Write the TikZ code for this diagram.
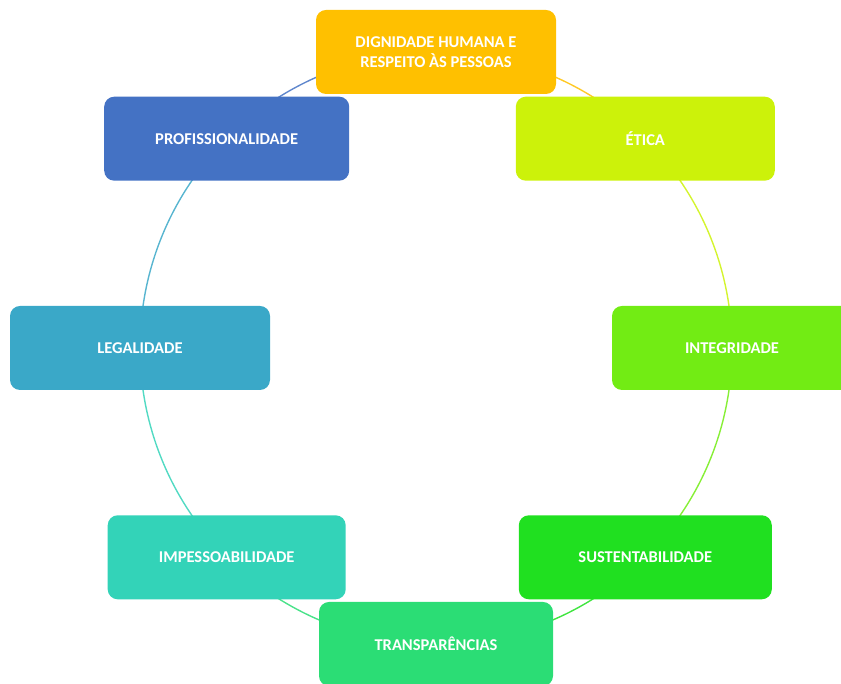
\documentclass[tikz,border=0pt]{standalone}
\usepackage{fontspec}
\setmainfont{Carlito}
\usetikzlibrary{backgrounds,calc}
\definecolor{cA}{HTML}{FFC000}
\definecolor{cB}{HTML}{CCF20A}
\definecolor{cC}{HTML}{72EC14}
\definecolor{cD}{HTML}{20E020}
\definecolor{cE}{HTML}{2BDD75}
\definecolor{cF}{HTML}{33D3B8}
\definecolor{cG}{HTML}{3AA8C8}
\definecolor{cH}{HTML}{4472C4}
\tikzset{
  box/.style={rounded corners=10pt, minimum height=84pt, inner sep=2pt,
    text=white, align=center, font=\fontsize{16.5}{19.5}\selectfont\bfseries},
  ring/.style={line width=1.4pt}
}
\begin{document}
\begin{tikzpicture}[x=1pt,y=1pt]
\useasboundingbox (0,0) rectangle (841,684);
\coordinate (O) at (436,336);
\node[box, fill=cA, minimum width=240pt] (dign)   at ($(O)+(90:296)$)   {DIGNIDADE HUMANA E\\RESPEITO ÀS PESSOAS};
\node[box, fill=cB, minimum width=259pt] (etica)  at ($(O)+(45:296)$)   {ÉTICA};
\node[box, fill=cC, minimum width=240pt] (integ)  at ($(O)+(0:296)$)    {INTEGRIDADE};
\node[box, fill=cD, minimum width=253pt] (sust)   at ($(O)+(-45:296)$)  {SUSTENTABILIDADE};
\node[box, fill=cE, minimum width=234pt] (transp) at ($(O)+(-90:296)$)  {TRANSPARÊNCIAS};
\node[box, fill=cF, minimum width=238pt] (impess) at ($(O)+(-135:296)$) {IMPESSOABILIDADE};
\node[box, fill=cG, minimum width=260pt] (legal)  at ($(O)+(180:296)$)  {LEGALIDADE};
\node[box, fill=cH, minimum width=245pt] (prof)   at ($(O)+(135:296)$)  {PROFISSIONALIDADE};
\begin{scope}[on background layer]
\foreach \na/\ang/\ca in {dign/90/cA, etica/45/cB, integ/0/cC, sust/-45/cD,
                          transp/-90/cE, impess/-135/cF, legal/180/cG, prof/135/cH} {
  \draw[ring, color=\ca!85!white] (\na.center) arc[start angle=\ang, delta angle=-45, radius=296];
}
\end{scope}
\end{tikzpicture}
\end{document}
